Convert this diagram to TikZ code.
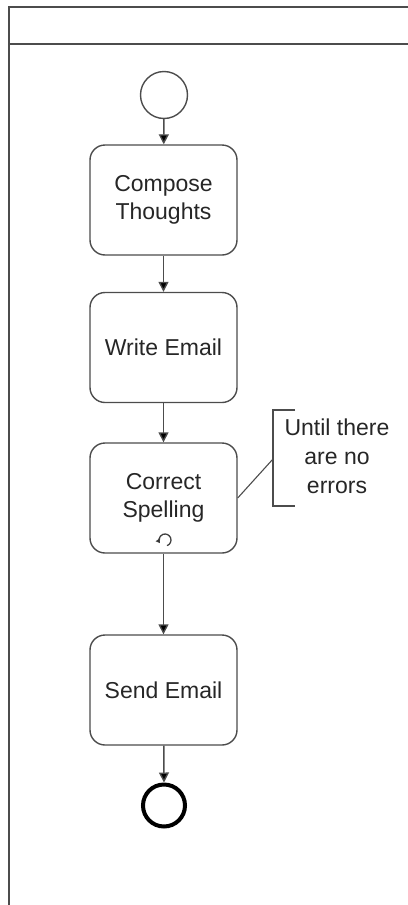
\documentclass[tikz,border=0pt]{standalone}
\usepackage{fontspec}
\setmainfont{Liberation Sans}
\usetikzlibrary{arrows.meta}
\begin{document}
\begin{tikzpicture}[x=1pt,y=-1pt,
  ln/.style={draw=black!70,line width=1.4pt},
  task/.style={ln,rounded corners=15pt,minimum width=147pt,minimum height=110pt,
    align=center,font=\fontsize{23}{28}\selectfont,text=black!85,inner sep=0pt},
  flow/.style={ln,-{Triangle[width=10pt,length=10pt,fill=black]}},
  lbl/.style={font=\fontsize{23}{29}\selectfont,text=black!85,align=center,inner sep=0pt}]
\useasboundingbox (0,0) rectangle (407,905);
% pool
\coordinate (pTL) at (9,7);
\coordinate (pTR) at (410,7);
\coordinate (pBL) at (9,908);
\coordinate (hL) at (9,44);
\coordinate (hR) at (410,44);
\draw[ln] (pTR) -- (pTL) -- (pBL);
\draw[ln] (hL) -- (hR);
% events and tasks
\node[ln,circle,minimum size=47pt,inner sep=0pt] (start) at (164,95) {};
\node[task] (t1) at (163.5,200) {Compose\\Thoughts};
\node[task] (t2) at (163.5,347.5) {Write Email};
\node[task] (t3) at (163.5,498) {Correct\\Spelling};
\node[task] (t4) at (163.5,690) {Send Email};
\node[draw=black,line width=4pt,circle,minimum size=42pt,inner sep=0pt] (end) at (164,805.5) {};
% loop marker
\node[inner sep=0pt,minimum size=0pt] (loop) at (165,540) {};
\draw[draw=black!75,line width=1.3pt,-{Triangle[width=5pt,length=4pt,fill=black]}]
  ([shift={(-70:6pt)}]loop.center) arc[start angle=-70,end angle=212,radius=6pt];
% flows
\draw[flow] (start) -- (t1);
\draw[flow] (t1) -- (t2);
\draw[flow] (t2) -- (t3);
\draw[flow] (t3) -- (t4);
\draw[flow] (t4) -- (end.north);
% annotation
\coordinate (bT) at (273,410);
\coordinate (bB) at (273,506);
\coordinate (bTr) at (295,410);
\coordinate (bBr) at (295,506);
\coordinate (bM) at (273,459);
\draw[ln] (bTr) -- (bT) -- (bB) -- (bBr);
\draw[draw=black!70,line width=1.1pt] (t3.east |- 0,498) -- (bM);
\node[lbl] (ann) at (337,456) {Until there\\are no\\errors};
\end{tikzpicture}
\end{document}
